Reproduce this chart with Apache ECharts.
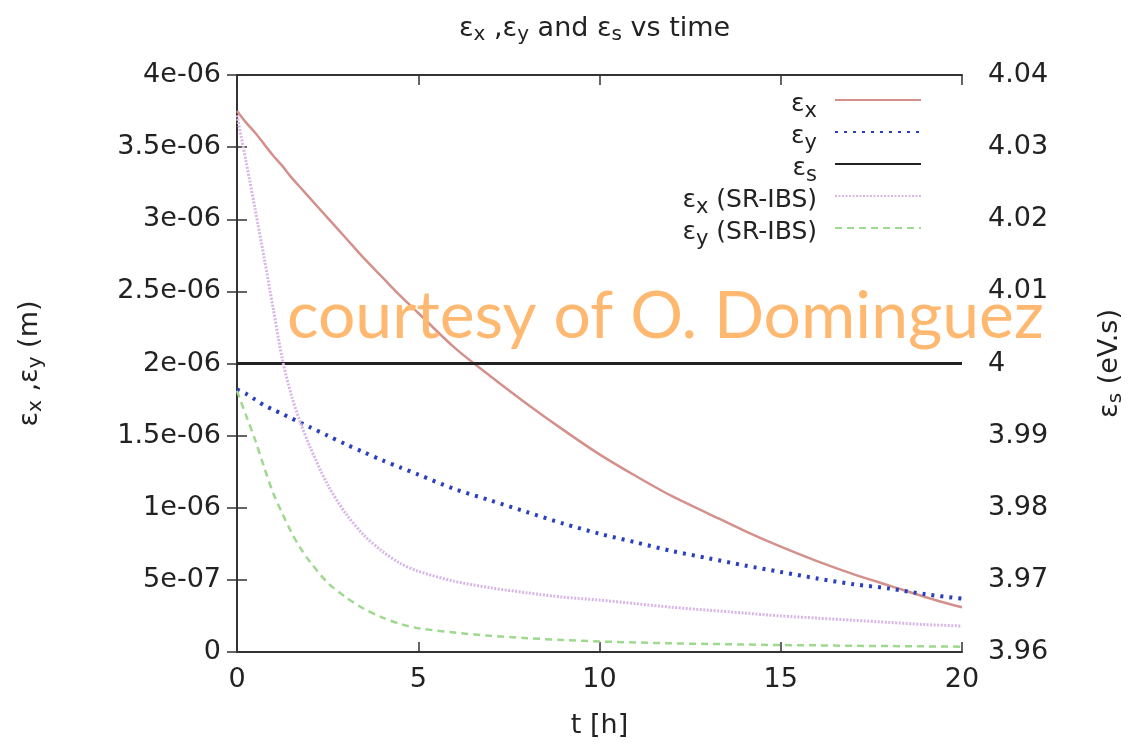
<!DOCTYPE html>
<html lang="en">
<head>
<meta charset="UTF-8">
<title>emittance vs time</title>
<style>
    * { margin: 0; padding: 0; }
    body { background: #fff; }
    #chart { width: 1128px; height: 748px; }
</style>
</head>
<body>
<div id="chart"></div>
<script src="https://cdn.jsdelivr.net/npm/echarts@6/dist/echarts.min.js"></script>
<script>
// time grid [h] and emittances (transverse in units of 1e-6 m, longitudinal in eV.s)
var hours = [0, 0.25, 0.5, 0.75, 1, 1.25, 1.5, 1.75, 2, 2.5, 3, 3.5, 4, 4.5, 5,
             6, 7, 8, 9, 10, 11, 12, 13, 14, 15, 16, 17, 18, 19, 20];
var epsX   = [3.75, 3.67, 3.60, 3.52, 3.44, 3.37, 3.29, 3.22, 3.15, 3.01, 2.87, 2.73, 2.60, 2.47, 2.35,
              2.11, 1.91, 1.72, 1.54, 1.37, 1.22, 1.08, 0.96, 0.84, 0.73, 0.63, 0.54, 0.46, 0.38, 0.31];
var epsY   = [1.82, 1.79, 1.75, 1.71, 1.68, 1.65, 1.62, 1.59, 1.56, 1.50, 1.44, 1.385, 1.33, 1.28, 1.23,
              1.13, 1.05, 0.97, 0.89, 0.82, 0.76, 0.70, 0.65, 0.60, 0.555, 0.51, 0.47, 0.44, 0.40, 0.37];
var epsXsr = [3.72, 3.40, 3.07, 2.73, 2.38, 2.03, 1.78, 1.59, 1.43, 1.16, 0.96, 0.81, 0.70, 0.615, 0.56,
              0.49, 0.445, 0.41, 0.38, 0.36, 0.335, 0.31, 0.29, 0.27, 0.25, 0.235, 0.22, 0.205, 0.19, 0.18];
var epsYsr = [1.81, 1.64, 1.47, 1.28, 1.10, 0.96, 0.83, 0.72, 0.63, 0.48, 0.38, 0.30, 0.24, 0.195, 0.165,
              0.135, 0.112, 0.096, 0.083, 0.073, 0.066, 0.060, 0.056, 0.052, 0.048, 0.046, 0.043, 0.041, 0.039, 0.037];
var epsSHours = [0, 20];
var epsS      = [4, 4];

var seriesNames = ['εx', 'εy', 'εs', 'εx (SR-IBS)', 'εy (SR-IBS)'];
var legendSubs  = ['x', 'y', 's', 'x', 'y'];
var legendTail  = ['', '', '', ' (SR-IBS)', ' (SR-IBS)'];

var leftTicks  = ['0', '5e-07', '1e-06', '1.5e-06', '2e-06', '2.5e-06', '3e-06', '3.5e-06', '4e-06'];
var rightTicks = ['3.96', '3.97', '3.98', '3.99', '4', '4.01', '4.02', '4.03', '4.04'];
var xTicks     = ['0', '5', '10', '15', '20'];

var watermark = 'courtesy of O. Dominguez';

function pairs(xs, ys) {
    return xs.map(function (x, i) { return [x, ys[i]]; });
}

var FONT = 'DejaVu Sans';

// main text and a lowered subscript, both top-aligned with padding to place them
function subRich(size, subSize, drop, shift) {
    return {
        e: { fontFamily: FONT, fontSize: size, fontWeight: 'normal', color: '#222',
             lineHeight: 20, padding: [8 - shift, 0, 8 + shift, 0], verticalAlign: 'top' },
        s: { fontFamily: FONT, fontSize: subSize, fontWeight: 'normal', color: '#222',
             lineHeight: 16, padding: [10 + drop - shift, 0, 0, 0], verticalAlign: 'top' }
    };
}
var rich = subRich(27, 20, 8, 0);
var legendRich = subRich(25, 21, 7, 6);

var axisLine = { show: true, lineStyle: { color: '#333', width: 2 } };
var tickIn = { show: true, inside: true, length: 10, lineStyle: { color: '#333', width: 1.5 } };

var myChart = echarts.init(document.getElementById('chart'));

var option = {
    animation: false,
    backgroundColor: '#fff',
    title: {
        text: '{e|ε}{s|x}{e| ,ε}{s|y}{e| and ε}{s|s}{e| vs time}',
        left: 459,
        top: 7,
        padding: 0,
        textStyle: { fontWeight: 'normal', rich: rich }
    },
    legend: {
        orient: 'vertical',
        align: 'right',
        right: 206,
        top: 90,
        padding: 0,
        itemWidth: 86,
        itemHeight: 14,
        itemGap: -9,
        data: seriesNames,
        itemStyle: { color: 'transparent', borderColor: 'transparent', opacity: 0 },
        formatter: function (name) {
            var i = seriesNames.indexOf(name);
            var s = '{e|ε}{s|' + legendSubs[i] + '}';
            if (legendTail[i]) s += '{e|' + legendTail[i] + '}';
            return s;
        },
        textStyle: { padding: [0, 13, 0, 0], rich: legendRich }
    },
    grid: {
        left: 237, right: 166, top: 75, bottom: 96,
        containLabel: false,
        outerBoundsMode: 'none'
    },
    xAxis: [{
        type: 'value',
        min: 0, max: 20, interval: 5,
        name: 't [h]',
        nameLocation: 'middle',
        nameGap: 60,
        nameTextStyle: { fontFamily: FONT, fontSize: 27, color: '#222' },
        axisLine: axisLine,
        axisTick: tickIn,
        splitLine: { show: false },
        axisLabel: {
            margin: 14, fontFamily: FONT, fontSize: 27, color: '#222',
            formatter: function (v, i) { return xTicks[i]; }
        }
    }, {
        type: 'value',
        position: 'top',
        min: 0, max: 20, interval: 5,
        axisLine: axisLine,
        axisTick: tickIn,
        splitLine: { show: false },
        axisLabel: { show: false }
    }],
    yAxis: [{
        type: 'value',
        position: 'left',
        min: 0, max: 4, interval: 0.5,
        name: '{e|ε}{s|x}{e| ,ε}{s|y}{e| (m)}',
        nameLocation: 'middle',
        nameRotate: 90,
        nameGap: 209,
        nameTextStyle: { rich: rich },
        axisLine: axisLine,
        axisTick: tickIn,
        splitLine: { show: false },
        axisLabel: {
            margin: 16, fontFamily: FONT, fontSize: 27, color: '#222',
            formatter: function (v, i) { return leftTicks[i]; }
        }
    }, {
        type: 'value',
        position: 'right',
        min: 3.96, max: 4.04, interval: 0.01,
        name: '{e|ε}{s|s}{e| (eV.s)}',
        nameLocation: 'middle',
        nameRotate: 90,
        nameGap: 126,
        nameTextStyle: { rich: rich },
        axisLine: axisLine,
        axisTick: tickIn,
        splitLine: { show: false },
        axisLabel: {
            margin: 26, fontFamily: FONT, fontSize: 27, color: '#222',
            formatter: function (v, i) { return rightTicks[i]; }
        }
    }],
    graphic: [{
        type: 'text',
        left: 287,
        top: 284,
        z: 100,
        silent: true,
        style: { text: watermark, font: '66px Lato', fill: '#FFB870' }
    }],
    series: [{
        name: seriesNames[0], type: 'line', symbol: 'none', smooth: 0.3,
        data: pairs(hours, epsX),
        lineStyle: { color: '#d4918b', width: 2.5 },
        itemStyle: { color: '#d4918b' }
    }, {
        name: seriesNames[1], type: 'line', symbol: 'none', smooth: 0.3,
        data: pairs(hours, epsY),
        lineStyle: { color: '#2a3fc0', width: 4, type: [3, 6] },
        itemStyle: { color: '#2a3fc0' }
    }, {
        name: seriesNames[2], type: 'line', symbol: 'none', yAxisIndex: 1,
        data: pairs(epsSHours, epsS),
        lineStyle: { color: '#222', width: 3 },
        itemStyle: { color: '#222' }
    }, {
        name: seriesNames[3], type: 'line', symbol: 'none', smooth: 0.3,
        data: pairs(hours, epsXsr),
        lineStyle: { color: '#d8b6e6', width: 3, type: [2, 1.5] },
        itemStyle: { color: '#d8b6e6' }
    }, {
        name: seriesNames[4], type: 'line', symbol: 'none', smooth: 0.3,
        data: pairs(hours, epsYsr),
        lineStyle: { color: '#9fd98f', width: 2.5, type: [7, 5] },
        itemStyle: { color: '#9fd98f' }
    }]
};

myChart.setOption(option);
</script>
</body>
</html>
